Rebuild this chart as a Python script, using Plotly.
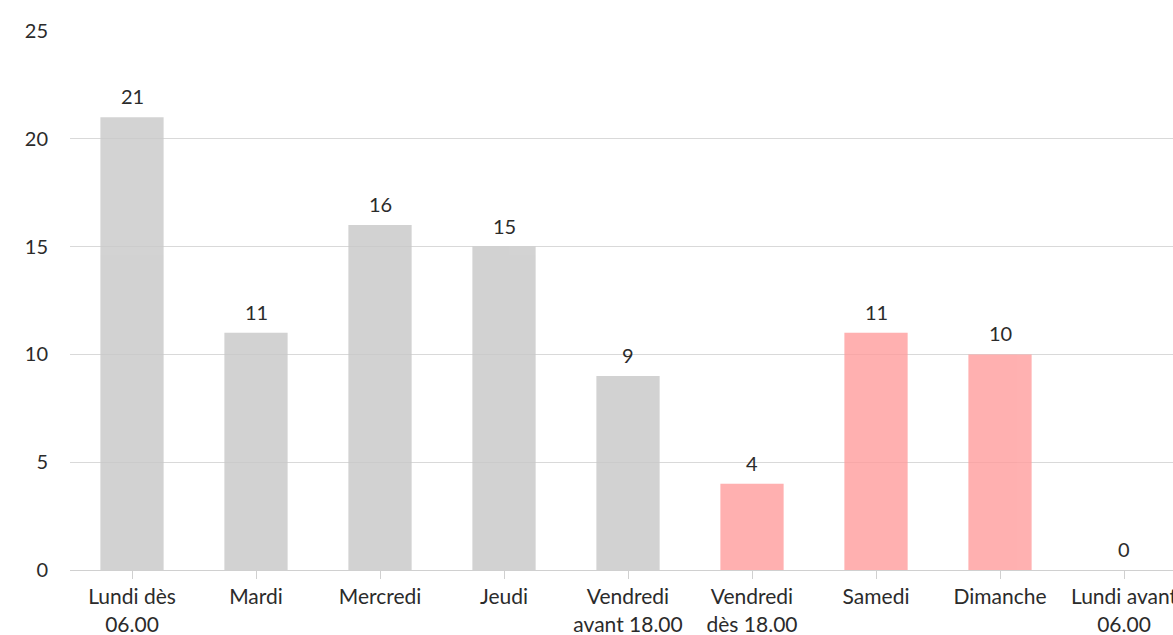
import plotly.graph_objects as go

categories = ["Lundi dès<br>06.00", "Mardi", "Mercredi", "Jeudi", "Vendredi<br>avant 18.00",
              "Vendredi<br>dès 18.00", "Samedi", "Dimanche", "Lundi avant<br>06.00"]
values = [21, 11, 16, 15, 9, 4, 11, 10, 0]
colors = ["#c8c8c8"] * 5 + ["#ff9d9d"] * 4
y_ticks = [0, 5, 10, 15, 20, 25]

FONT = "Lato"
TXT = "#2b2b2b"

xs = list(range(len(categories)))
fig = go.Figure(go.Bar(
    x=xs, y=values,
    marker=dict(color=colors, line=dict(width=0)), opacity=0.8,
    width=0.51,
))
for x, v in zip(xs, values):
    fig.add_annotation(x=x, y=v, text=str(v), showarrow=False, yanchor="middle",
                       yshift=21, font=dict(family=FONT, size=20, color=TXT))

fig.update_layout(
    width=1173, height=635,
    margin=dict(l=70, r=0, t=31, b=65),
    paper_bgcolor="white", plot_bgcolor="white",
    showlegend=False,
    font=dict(family=FONT, size=20, color=TXT),
)
fig.update_xaxes(
    tickmode="array", tickvals=xs, ticktext=categories,
    range=[-0.5, 8.395], automargin=False, ticklabeloverflow="allow",
    showline=True, linecolor="#d0d0d0", linewidth=1,
    ticks="outside", ticklen=8, tickcolor="#d0d0d0", tickson="boundaries",
    showgrid=False, tickfont=dict(family=FONT, size=21, color=TXT),
)
fig.update_yaxes(
    range=[0, 25], tickvals=y_ticks, showgrid=True, gridcolor="#d9d9d9", gridwidth=1,
    zeroline=False, ticks="", ticklabelstandoff=21, automargin=False,
    tickfont=dict(family=FONT, size=20, color=TXT),
)
fig.write_html("out.html", config={"displayModeBar": False},
               post_script="document.body.style.margin='0';document.documentElement.style.overflow='hidden';")
